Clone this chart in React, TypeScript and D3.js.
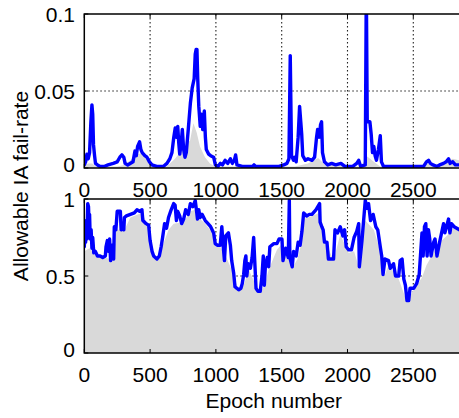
import React from 'react';
import * as d3 from 'd3';

// ---------- data ----------
const epochTicks = [0, 500, 1000, 1500, 2000, 2500];
const topYTicks = [0, 0.05, 0.1];
const topYTickLabels = ['0', '0.05', '0.1'];
const botYTicks = [0, 0.5, 1];
const botYTickLabels = ['0', '0.5', '1'];
const xLabel = 'Epoch number';
const yLabel = 'Allowable IA fail-rate';

// top panel: blue line (allowable fail-rate)
const topLineEpoch = [0, 10, 20, 30, 40, 50, 58, 64, 70, 78, 85, 100, 120, 150, 180, 220, 250, 270, 286, 300, 310, 330, 370, 385, 395, 405, 420, 430, 440, 460, 476, 495, 514, 550, 600, 628, 650, 666, 680, 691, 700, 710, 718, 725, 735, 745, 755, 765, 775, 790, 806, 820, 835, 843, 850, 856, 862, 870, 881, 890, 900, 912, 920, 927, 945, 960, 983, 996, 1015, 1034, 1050, 1070, 1090, 1110, 1125, 1140, 1150, 1160, 1200, 1280, 1290, 1300, 1400, 1480, 1515, 1540, 1555, 1565, 1575, 1590, 1600, 1610, 1625, 1636, 1645, 1652, 1660, 1680, 1700, 1730, 1750, 1765, 1773, 1785, 1795, 1803, 1810, 1825, 1850, 1880, 1910, 1950, 1980, 2040, 2070, 2085, 2100, 2135, 2143, 2150, 2160, 2170, 2180, 2190, 2200, 2210, 2220, 2235, 2249, 2258, 2274, 2400, 2578, 2600, 2616, 2630, 2650, 2680, 2700, 2730, 2750, 2768, 2780, 2800, 2820, 2850, 2880];
const topLineValue = [0.002, 0.004, 0.009, 0.006, 0.01, 0.03, 0.041, 0.035, 0.015, 0.008, 0.003, 0.002, 0.001, 0.001, 0.002, 0.003, 0.004, 0.007, 0.0085, 0.007, 0.003, 0.002, 0.004, 0.011, 0.008, 0.014, 0.017, 0.012, 0.01, 0.008, 0.007, 0.004, 0.002, 0.001, 0.001, 0.003, 0.006, 0.01, 0.02, 0.026, 0.02, 0.027, 0.016, 0.009, 0.015, 0.025, 0.012, 0.007, 0.01, 0.025, 0.042, 0.052, 0.058, 0.074, 0.077, 0.077, 0.058, 0.04, 0.027, 0.035, 0.025, 0.037, 0.02, 0.012, 0.009, 0.008, 0.007, 0.002, 0.001, 0.003, 0.002, 0.005, 0.003, 0.006, 0.003, 0.005, 0.0085, 0.002, 0.001, 0.001, 0.002, 0.001, 0.001, 0.001, 0.002, 0.003, 0.006, 0.073, 0.008, 0.005, 0.007, 0.004, 0.02, 0.04, 0.03, 0.022, 0.008, 0.005, 0.006, 0.005, 0.007, 0.02, 0.025, 0.02, 0.028, 0.03, 0.01, 0.004, 0.002, 0.003, 0.002, 0.003, 0.001, 0.001, 0.003, 0.005, 0.001, 0.002, 0.12, 0.03, 0.03, 0.03, 0.022, 0.01, 0.014, 0.008, 0.005, 0.012, 0.021, 0.004, 0.001, 0.001, 0.001, 0.004, 0.005, 0.003, 0.002, 0.001, 0.002, 0.003, 0.004, 0.006, 0.003, 0.004, 0.002, 0.002, 0.002];

// top panel: gray area
const topAreaEpoch = [0, 30, 60, 90, 250, 302, 350, 400, 440, 470, 495, 520, 626, 689, 753, 804, 829, 854, 879, 917, 955, 995, 1600, 1700, 1777, 1830, 1880, 1960, 2000, 2100, 2150, 2200, 2249, 2560, 2603, 2650, 2756, 2800, 2850, 2880];
const topAreaValue = [0.002, 0.003, 0.003, 0.001, 0.001, 0.002, 0.005, 0.009, 0.0095, 0.006, 0.003, 0.001, 0.001, 0.006, 0.013, 0.018, 0.029, 0.023, 0.014, 0.007, 0.003, 0.001, 0.001, 0.003, 0.0065, 0.002, 0.002, 0.002, 0.001, 0.001, 0.0075, 0.004, 0.001, 0.001, 0.003, 0.002, 0.004, 0.006, 0.005, 0.005];

// bottom panel: blue line
const botLineEpoch = [0, 6, 10, 15, 20, 26, 32, 36, 40, 45, 52, 58, 64, 72, 84, 100, 120, 140, 160, 165, 175, 185, 192, 200, 210, 223, 228, 240, 250, 274, 280, 290, 300, 305, 320, 350, 380, 400, 420, 438, 445, 470, 489, 500, 515, 527, 552, 570, 584, 595, 610, 625, 640, 660, 679, 690, 700, 710, 725, 740, 755, 770, 790, 806, 825, 843, 852, 860, 870, 880, 895, 919, 940, 960, 983, 995, 1010, 1033, 1045, 1055, 1065, 1075, 1095, 1110, 1120, 1135, 1145, 1160, 1173, 1190, 1200, 1211, 1220, 1228, 1235, 1245, 1262, 1275, 1287, 1295, 1305, 1320, 1337, 1350, 1360, 1368, 1375, 1390, 1401, 1410, 1440, 1464, 1480, 1502, 1510, 1530, 1550, 1558, 1562, 1580, 1590, 1610, 1625, 1640, 1654, 1667, 1690, 1710, 1730, 1760, 1788, 1792, 1805, 1815, 1825, 1844, 1855, 1880, 1894, 1905, 1925, 1945, 1965, 1978, 1990, 2008, 2030, 2050, 2070, 2085, 2090, 2110, 2135, 2150, 2160, 2175, 2195, 2215, 2230, 2249, 2260, 2270, 2285, 2312, 2325, 2350, 2365, 2389, 2400, 2415, 2428, 2440, 2452, 2465, 2475, 2503, 2525, 2545, 2566, 2575, 2585, 2595, 2605, 2615, 2625, 2635, 2655, 2665, 2680, 2700, 2730, 2740, 2768, 2778, 2790, 2810, 2850, 2880];
const botLineValue = [0.69, 0.8, 0.72, 0.86, 0.74, 0.97, 0.95, 0.84, 0.9, 0.74, 0.8, 0.68, 0.75, 0.65, 0.66, 0.63, 0.63, 0.62, 0.63, 0.69, 0.73, 0.66, 0.74, 0.6, 0.7, 0.61, 0.82, 0.8, 0.92, 0.92, 0.8, 0.81, 0.8, 0.88, 0.89, 0.9, 0.91, 0.93, 0.92, 0.93, 0.86, 0.84, 0.83, 0.73, 0.66, 0.63, 0.61, 0.63, 0.69, 0.75, 0.84, 0.81, 0.88, 0.93, 0.97, 0.96, 0.86, 0.92, 0.89, 0.84, 0.87, 0.93, 0.9, 0.97, 0.95, 0.99, 0.93, 0.87, 0.93, 0.88, 0.9, 0.86, 0.84, 0.82, 0.78, 0.71, 0.7, 0.7, 0.82, 0.7, 0.6, 0.76, 0.78, 0.7, 0.6, 0.52, 0.43, 0.42, 0.41, 0.42, 0.45, 0.51, 0.6, 0.63, 0.5, 0.58, 0.55, 0.62, 0.75, 0.6, 0.42, 0.4, 0.4, 0.5, 0.63, 0.44, 0.55, 0.62, 0.56, 0.69, 0.71, 0.71, 0.74, 0.74, 0.6, 0.68, 0.62, 0.99, 0.62, 0.56, 0.66, 0.63, 0.72, 0.7, 0.79, 0.91, 0.89, 0.9, 0.9, 0.93, 0.97, 0.85, 0.82, 0.8, 0.72, 0.72, 0.61, 0.61, 0.61, 0.8, 0.78, 0.82, 0.76, 0.8, 0.69, 0.67, 0.67, 0.75, 0.79, 0.84, 0.56, 0.73, 0.99, 0.94, 0.97, 0.86, 0.9, 0.82, 0.8, 0.69, 0.63, 0.51, 0.61, 0.6, 0.55, 0.58, 0.5, 0.5, 0.6, 0.61, 0.48, 0.44, 0.34, 0.34, 0.42, 0.42, 0.45, 0.51, 0.78, 0.63, 0.82, 0.84, 0.63, 0.8, 0.74, 0.63, 0.72, 0.74, 0.63, 0.72, 0.84, 0.78, 0.87, 0.78, 0.84, 0.82, 0.8, 0.8];

// bottom panel: gray area
const botAreaEpoch = [0, 40, 84, 160, 223, 230, 274, 300, 350, 438, 489, 527, 552, 584, 640, 679, 755, 806, 843, 881, 919, 983, 1000, 1033, 1080, 1135, 1173, 1211, 1250, 1287, 1337, 1370, 1401, 1464, 1502, 1558, 1580, 1620, 1654, 1667, 1730, 1788, 1844, 1894, 1945, 2008, 2050, 2085, 2135, 2200, 2249, 2280, 2312, 2389, 2452, 2503, 2566, 2600, 2627, 2703, 2754, 2806, 2850, 2880];
const botAreaValue = [0.66, 0.68, 0.64, 0.62, 0.6, 0.8, 0.8, 0.79, 0.88, 0.91, 0.82, 0.62, 0.6, 0.67, 0.8, 0.84, 0.85, 0.92, 0.93, 0.87, 0.84, 0.77, 0.69, 0.69, 0.62, 0.51, 0.4, 0.44, 0.54, 0.47, 0.39, 0.44, 0.54, 0.67, 0.71, 0.6, 0.55, 0.61, 0.73, 0.87, 0.89, 0.91, 0.7, 0.6, 0.77, 0.65, 0.66, 0.56, 0.86, 0.8, 0.66, 0.5, 0.57, 0.48, 0.33, 0.41, 0.49, 0.57, 0.61, 0.72, 0.76, 0.81, 0.79, 0.79];

// ---------- layout ----------
const W = 459;
const H = 418;
const X0 = 84.3;
const X1 = 463.3;
const TOP = { y0: 14, y1: 168 };
const BOT = { y0: 199, y1: 353 };
const FONT = 'Liberation Sans, Arial, Helvetica, sans-serif';
const FS = 21;
const BLUE = '#0000ff';
const GRAY = '#d9d9d9';

type Pt = [number, number];
const zip = (a: number[], b: number[]): Pt[] => a.map((e, i) => [e, b[i]]);

function Panel({ id, yDomain, y0, y1, yTicks, yTickLabels, lineData, areaData }: {
  id: string; yDomain: [number, number]; y0: number; y1: number; yTicks: number[]; yTickLabels: string[];
  lineData: Pt[]; areaData: Pt[];
}) {
  const x = d3.scaleLinear().domain([0, 2880]).range([X0, X1]);
  const y = d3.scaleLinear().domain(yDomain).range([y1, y0]);
  const line = d3.line<Pt>().x(d => x(d[0])).y(d => y(d[1]));
  const area = d3.area<Pt>().x(d => x(d[0])).y0(y(0)).y1(d => y(d[1]));
  return (
    <g>
      <defs>
        <clipPath id={id}>
          <rect x={X0} y={y0} width={X1 - X0} height={y1 - y0} />
        </clipPath>
      </defs>
      {/* grid */}
      {epochTicks.filter(t => t > 0).map(t => (
        <line key={'gx' + t} x1={x(t)} x2={x(t)} y1={y0} y2={y1} stroke="#222" strokeWidth={1.1} strokeDasharray="1.5,2.5" />
      ))}
      {yTicks.slice(1, -1).map(t => (
        <line key={'gy' + t} x1={X0} x2={X1} y1={y(t)} y2={y(t)} stroke="#222" strokeWidth={1.1} strokeDasharray="1.5,2.5" />
      ))}
      <g clipPath={`url(#${id})`}>
        <path d={area(areaData) || ''} fill={GRAY} stroke="none" />
        <path d={line(lineData) || ''} fill="none" stroke={BLUE} strokeWidth={3.4} strokeLinejoin="round" strokeLinecap="round" />
      </g>
      {/* frame */}
      <rect x={X0} y={y0} width={X1 - X0} height={y1 - y0} fill="none" stroke="#000" strokeWidth={1.5} />
      {/* ticks */}
      {epochTicks.map(t => (
        <g key={'tx' + t}>
          <line x1={x(t)} x2={x(t)} y1={y1} y2={y1 - 4} stroke="#000" strokeWidth={1} />
          <line x1={x(t)} x2={x(t)} y1={y0} y2={y0 + 4} stroke="#000" strokeWidth={1} />
          <text x={x(t)} y={y1 + 29} textAnchor="middle" fontFamily={FONT} fontSize={FS} fill="#000">{t}</text>
        </g>
      ))}
      {yTicks.map((t, i) => (
        <g key={'ty' + t}>
          <line x1={X0} x2={X0 + 4} y1={y(t)} y2={y(t)} stroke="#000" strokeWidth={1} />
          <text x={75} y={y(t) + 7.5 - (i === 0 ? 4 : 0)} textAnchor="end" fontFamily={FONT} fontSize={FS} fill="#000">{yTickLabels[i]}</text>
        </g>
      ))}
    </g>
  );
}

export default function App() {
  return (
    <svg width={W} height={H} style={{ position: 'absolute', left: 0, top: 0, background: '#fff' }}>
      <rect x={0} y={0} width={W} height={H} fill="#fff" />
      <Panel id="clipTop" yDomain={[0, 0.1]} y0={TOP.y0} y1={TOP.y1} yTicks={topYTicks} yTickLabels={topYTickLabels}
        lineData={zip(topLineEpoch, topLineValue)} areaData={zip(topAreaEpoch, topAreaValue)} />
      <Panel id="clipBot" yDomain={[0, 1]} y0={BOT.y0} y1={BOT.y1} yTicks={botYTicks} yTickLabels={botYTickLabels}
        lineData={zip(botLineEpoch, botLineValue)} areaData={zip(botAreaEpoch, botAreaValue)} />
      <text x={(X0 + X1) / 2} y={408} textAnchor="middle" fontFamily={FONT} fontSize={FS} fill="#000">{xLabel}</text>
      <text transform={`translate(27.5,186) rotate(-90)`} textAnchor="middle" fontFamily={FONT} fontSize={FS} fill="#000">{yLabel}</text>
    </svg>
  );
}
